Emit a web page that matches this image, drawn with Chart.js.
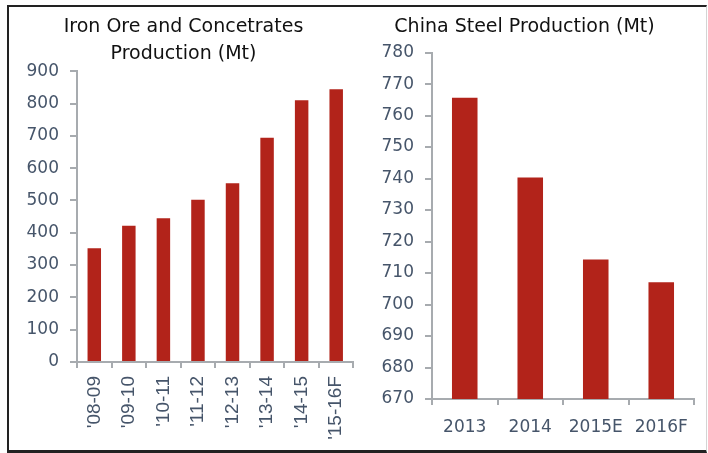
<!DOCTYPE html>
<html>
<head>
<meta charset="utf-8">
<script src="https://cdn.jsdelivr.net/npm/chart.js@4"></script>
<style>
  html,body{margin:0;padding:0;background:#fff;}
  body{width:708px;height:453px;position:relative;overflow:hidden;}
  #oreWrap{position:absolute;left:0;top:0;width:367px;height:453px;}
  #steelWrap{position:absolute;left:355px;top:0;width:353px;height:453px;}
  .frame{position:absolute;left:7px;top:5px;width:700px;height:448px;box-sizing:border-box;
    border-top:2px solid #222;border-left:2px solid #222;border-bottom:3px solid #222;border-right:1px solid #d4d4d4;
    pointer-events:none;}
</style>
</head>
<body>
<div id="oreWrap"><canvas id="oreChart"></canvas></div>
<div id="steelWrap"><canvas id="steelChart"></canvas></div>
<div class="frame"></div>
<script>
// data
const oreLabels = ["'08-09","'09-10","'10-11","'11-12","'12-13","'13-14","'14-15","'15-16F"];
const oreValues = [352, 422, 445, 502, 553, 694, 810, 844];

const steelLabels = ['2013','2014','2015E','2016F'];
const steelValues = [765.7, 740.3, 714.3, 707.1];

const barColor = '#b2231a';
const tickColor = '#46556a';
const axisColor = '#a7abaf';

function axisGrid(len){
    return { drawOnChartArea:false, drawTicks:true, tickLength:len, color:axisColor, lineWidth:2 };
}

function makeChart(id, labels, values, opts){
    return new Chart(document.getElementById(id).getContext('2d'),{
        type:'bar',
        data:{ labels: labels, datasets:[{ data: values, backgroundColor: barColor,
            barPercentage:0.39, categoryPercentage:1 }] },
        options:{
            responsive:true, maintainAspectRatio:false, animation:false,
            layout:{ padding: opts.padding },
            plugins:{
                legend:{display:false}, tooltip:{enabled:false},
                title:{ display:true, text: opts.title, color:'#111',
                    font:{ family:'DejaVu Sans', size:19, weight:'normal', lineHeight:1.4 },
                    padding:{ top:14, bottom: opts.titleBottom } }
            },
            scales:{
                x:{
                    grid: axisGrid(6),
                    border:{ color:axisColor, width:2 },
                    ticks:{ color:tickColor, font: opts.xFont, padding: opts.xPad,
                        minRotation: opts.rot, maxRotation: opts.rot, autoSkip:false },
                    afterFit: s => { s.height = opts.xHeight; }
                },
                y:{
                    min: opts.min, max: opts.max,
                    grid: axisGrid(7),
                    border:{ color:axisColor, width:2 },
                    ticks:{ stepSize: opts.step, color:tickColor, padding:11,
                        font:{ family:'DejaVu Sans', size:17 } },
                    afterFit: s => { s.width = opts.yWidth; }
                }
            }
        }
    });
}

makeChart('oreChart', oreLabels, oreValues, {
    title:['Iron Ore and Concetrates','Production (Mt)'],
    titleBottom:4, padding:{left:0,right:0,top:0,bottom:0},
    min:0, max:900, step:100, yWidth:77, xHeight:91,
    rot:90, xPad:8, xFont:{ family:'Liberation Sans', size:19 }
});

makeChart('steelChart', steelLabels, steelValues, {
    title:'China Steel Production (Mt)',
    titleBottom:12, padding:{left:0,right:14,top:0,bottom:0},
    min:670, max:780, step:10, yWidth:77, xHeight:54,
    rot:0, xPad:12, xFont:{ family:'DejaVu Sans', size:17 }
});
</script>
</body>
</html>
